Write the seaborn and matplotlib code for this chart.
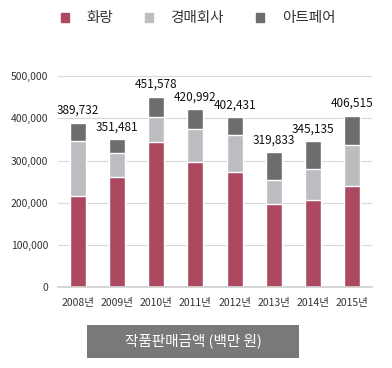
import matplotlib
matplotlib.use('Agg')
import matplotlib.pyplot as plt
import matplotlib.patches as mpatches
import pandas as pd
import seaborn as sns

# 데이터 (단위: 백만 원)
years = ['2008년', '2009년', '2010년', '2011년', '2012년', '2013년', '2014년', '2015년']
gallery = [215000, 260000, 345000, 297000, 273500, 196000, 206000, 240000]     # 화랑
auction = [132000, 58000, 59000, 78000, 87500, 57000, 75000, 97000]            # 경매회사
artfair = [42732, 33481, 47578, 45992, 41431, 66833, 64135, 69515]            # 아트페어
totals = [389732, 351481, 451578, 420992, 402431, 319833, 345135, 406515]

series_names = ['화랑', '경매회사', '아트페어']
colors = ['#AC4961', '#BDBDC1', '#6D6D6D']

sns.set_theme(style='white')
plt.rcParams['font.family'] = ['Noto Sans CJK KR', 'DejaVu Sans']
plt.rcParams['axes.unicode_minus'] = False

df = pd.DataFrame({'year': years, '화랑': gallery, '경매회사': auction, '아트페어': artfair})
df['lvl1'] = df['화랑']
df['lvl2'] = df['화랑'] + df['경매회사']
df['lvl3'] = df['lvl2'] + df['아트페어']

fig = plt.figure(figsize=(3.92, 3.68), dpi=100)
ax = fig.add_axes([0.148, 0.22, 0.801, 0.573])

# 누적 막대: 위에서부터 겹쳐 그리기
for col, c in zip(['lvl3', 'lvl2', 'lvl1'], colors[::-1]):
    sns.barplot(data=df, x='year', y=col, color=c, width=0.41, saturation=1, ax=ax)

for i, t in enumerate(totals):
    ax.annotate(f'{t:,}', (i, df['lvl3'][i]), xytext=(0, 4), textcoords='offset points',
                ha='center', va='bottom', fontsize=8.5, color='#111111')

ax.set_ylim(0, 500000)
ax.set_xlim(-0.5, 7.5)
ax.set_yticks([0, 100000, 200000, 300000, 400000, 500000])
ax.set_yticklabels([f'{v:,}' for v in [0, 100000, 200000, 300000, 400000, 500000]])
ax.yaxis.grid(True, color='#d9d9d9', linewidth=0.8)
ax.set_axisbelow(True)
ax.set_xlabel('')
ax.set_ylabel('')
for s in ['top', 'right', 'left']:
    ax.spines[s].set_visible(False)
ax.spines['bottom'].set_color('#d0d0d0')
ax.tick_params(axis='both', length=0, labelsize=7.5, colors='#333333')
ax.tick_params(axis='y', pad=7)
ax.tick_params(axis='x', pad=8)

handles = [mpatches.Patch(color=c, label=n) for n, c in zip(series_names, colors)]
fig.legend(handles=handles, loc='center', bbox_to_anchor=(0.505, 0.95), ncol=3, frameon=False,
           fontsize=10.5, handlelength=0.55, handleheight=0.55, columnspacing=2.2, handletextpad=1.2,
           labelcolor='#333333')

fig.add_artist(mpatches.Rectangle((0.222, 0.028), 0.541, 0.089, transform=fig.transFigure,
                                  facecolor='#797979', edgecolor='none'))
fig.text(0.4925, 0.073, '작품판매금액 (백만 원)', ha='center', va='center', color='white', fontsize=10.5)

fig.savefig('out.png', dpi=100)
